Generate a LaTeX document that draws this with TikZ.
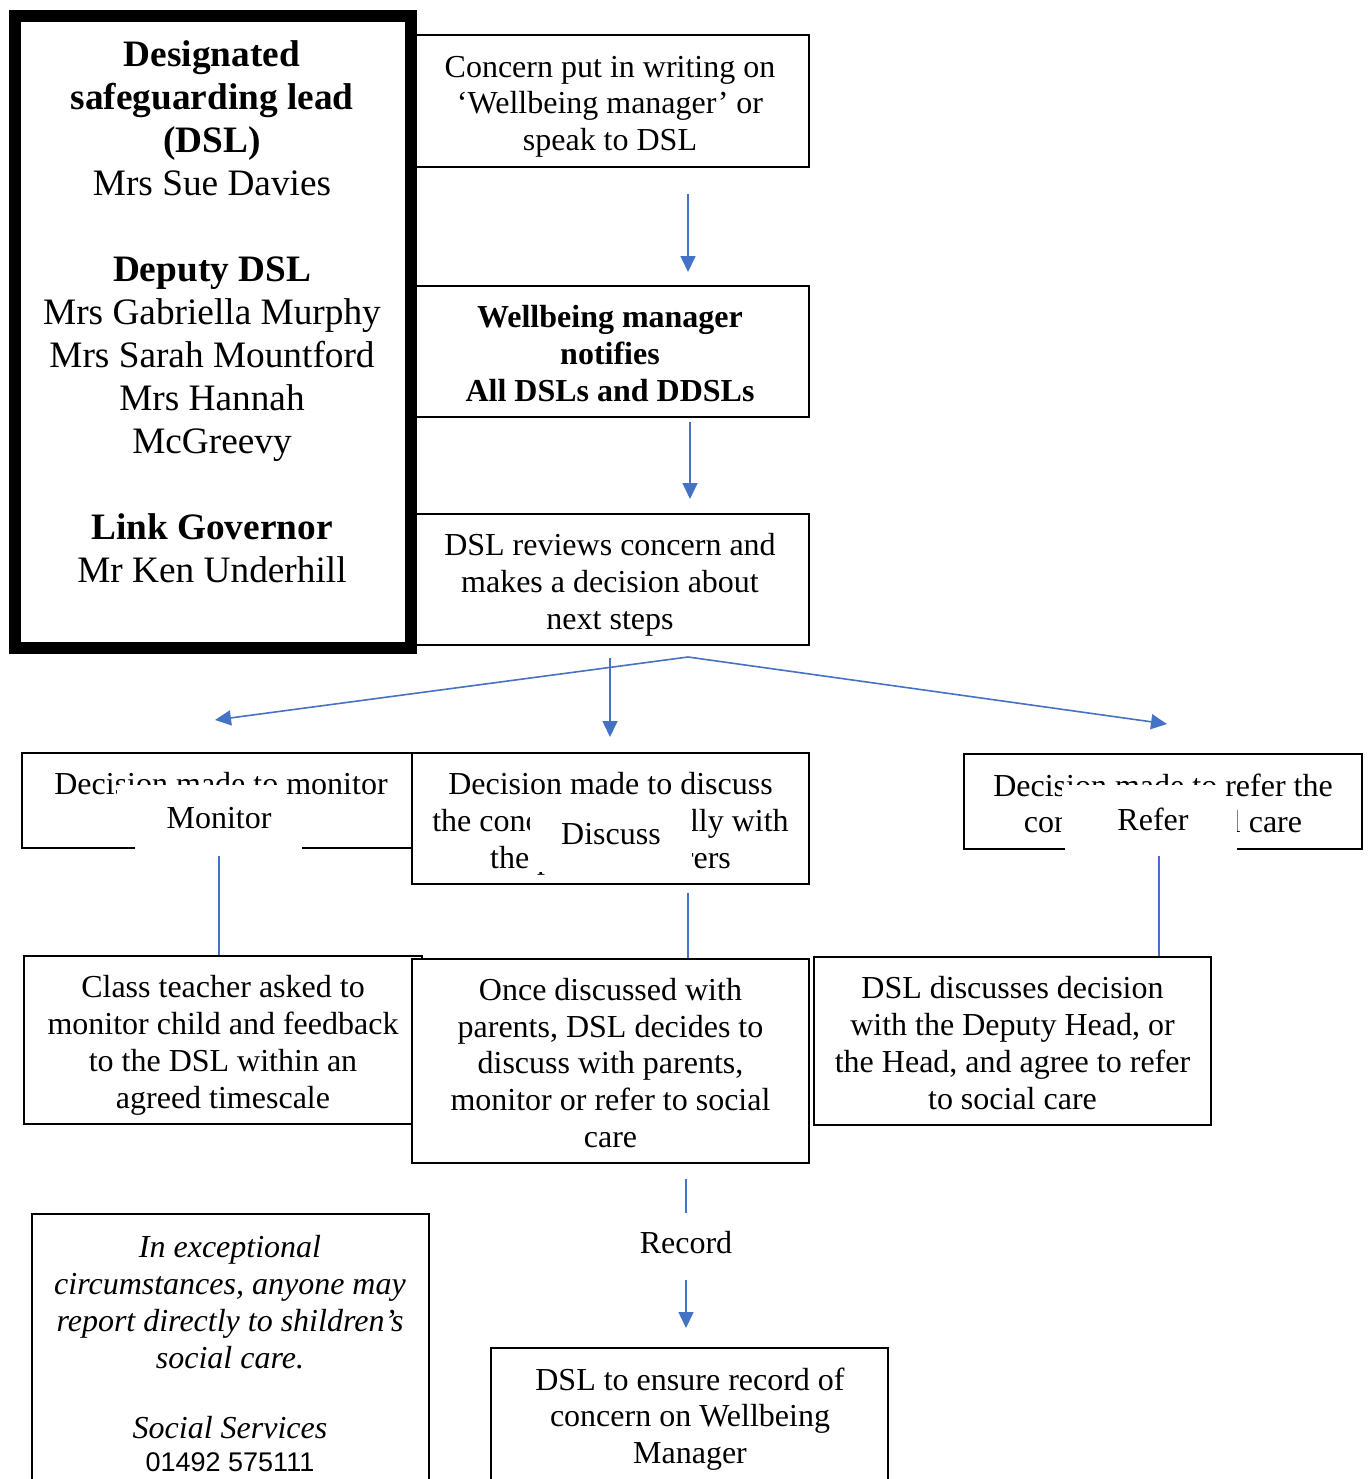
\documentclass[tikz,border=0pt]{standalone}
\usepackage{fontspec}
\setmainfont{Liberation Serif}
\newfontfamily\phonefont{Liberation Sans}
\usetikzlibrary{arrows.meta}
\definecolor{arrowblue}{RGB}{68,114,196}
\newcommand{\bodyfont}{\fontsize{32}{36.8}\selectfont}
\newcommand{\titlefont}{\fontsize{37.3}{43}\selectfont}
\newcommand{\phonesize}{\fontsize{27}{34}\selectfont}
\begin{document}
\begin{tikzpicture}[x=1pt,y=-1pt,
  flowbox/.style={draw, line width=1.8pt, fill=white, inner sep=0pt, align=center, font=\bodyfont},
  plaintext/.style={inner sep=0pt, align=center, font=\bodyfont},
  lone/.style={text height=20.8pt, text depth=0pt},
  ltwo/.style={text height=62.6pt, text depth=0pt},
  lthree/.style={text height=99.4pt, text depth=0pt},
  lfour/.style={text height=136.2pt, text depth=0pt},
  lfive/.style={text height=173pt, text depth=0pt},
  titletext/.style={inner sep=0pt, align=center, font=\titlefont, text height=540.2pt, text depth=0pt},
  leadbox/.style={draw, line width=12pt, inner sep=0pt},
  flowarrow/.style={draw=arrowblue, line width=1.6pt, -{Triangle[length=16pt,width=15pt]}},
  flowline/.style={draw=arrowblue, line width=1.6pt},
  patch/.style={fill=white, draw=none}
]
\useasboundingbox (0,0) rectangle (1370,1479);
\clip (0,0) rectangle (1370,1479);

% top column of boxes
\node[flowbox, lthree, minimum width=398pt, minimum height=132pt] (concern) at (610,101)
  {Concern put in writing on\\‘Wellbeing manager’ or\\speak to DSL};
\node[flowbox, lthree, minimum width=398pt, minimum height=131pt, font=\bodyfont\bfseries] (notify) at (610,351.5)
  {Wellbeing manager\\notifies\\All DSLs and DDSLs};
\node[flowbox, lthree, minimum width=398pt, minimum height=131pt] (review) at (610,579.5)
  {DSL reviews concern and\\makes a decision about\\next steps};

% DSL box
\node[leadbox, minimum width=396.5pt, minimum height=631.5pt] (lead) at (212.75,331.75) {};
\node[titletext] (leadtext) at (212,312)
  {\textbf{Designated}\\\textbf{safeguarding lead}\\\textbf{(DSL)}\\Mrs Sue Davies\\\strut\\
   \textbf{Deputy DSL}\\Mrs Gabriella Murphy\\Mrs Sarah Mountford\\Mrs Hannah\\McGreevy\\\strut\\
   \textbf{Link Governor}\\Mr Ken Underhill};

% arrows down the column
\coordinate (a1s) at (688,194);
\coordinate (a1e) at (688,272);
\coordinate (a2s) at (690,422);
\coordinate (a2e) at (690,499);
\draw[flowarrow] (a1s) -- (a1e);
\draw[flowarrow] (a2s) -- (a2e);

% fan of arrows
\coordinate (fan) at (688,657);
\coordinate (fanL) at (215,720);
\coordinate (fanR) at (1167,724);
\coordinate (midS) at (610,658);
\coordinate (midE) at (610,737);
\draw[flowarrow] (fan) -- (fanL);
\draw[flowarrow] (fan) -- (fanR);
\draw[flowarrow] (midS) -- (midE);

% decision boxes
\node[flowbox, minimum width=390pt, minimum height=95pt] (monbox) at (217,800.5) {};
\node[plaintext, lone] (montext) at (221,784) {Decision made to monitor};
\node[flowbox, lthree, minimum width=397pt, minimum height=131pt] (disbox) at (610.5,818.5)
  {Decision made to discuss\\the concern informally with\\the parents / carers};
\node[flowbox, ltwo, minimum width=398pt, minimum height=95pt] (refbox) at (1163,801.5)
  {Decision made to refer the\\concern to social care};

% white label patches
\fill[patch] (117,785) rectangle (284,840);
\fill[patch] (135,800) rectangle (302,860);
\fill[patch] (530,801) rectangle (692,872);
\fill[patch] (1062,785) rectangle (1219,840);
\fill[patch] (1065,803) rectangle (1237,860);

\node[plaintext, lone] (lblM) at (219,818) {Monitor};
\node[plaintext, lone] (lblD) at (611,834) {Discuss};
\node[plaintext, lone] (lblR) at (1153,820) {Refer};

% action boxes
\node[flowbox, lfour, minimum width=398pt, minimum height=168pt] (teach) at (223,1040)
  {Class teacher asked to\\monitor child and feedback\\to the DSL within an\\agreed timescale};
\node[flowbox, lfive, minimum width=397pt, minimum height=204pt] (once) at (610.5,1061)
  {Once discussed with\\parents, DSL decides to\\discuss with parents,\\monitor or refer to social\\care};
\node[flowbox, lfour, minimum width=397pt, minimum height=168pt] (dsltwo) at (1012.5,1041)
  {DSL discusses decision\\with the Deputy Head, or\\the Head, and agree to refer\\to social care};

% connectors from labels
\coordinate (mS) at (219,856);
\coordinate (dS) at (688,893);
\coordinate (rS) at (1159,856);
\draw[flowline] (mS) -- (mS |- teach.north);
\draw[flowline] (dS) -- (dS |- once.north);
\draw[flowline] (rS) -- (rS |- dsltwo.north);

% record step
\coordinate (recA) at (686,1179);
\coordinate (recB) at (686,1213);
\node[plaintext, lone] (lblRec) at (686,1243) {Record};
\coordinate (recC) at (686,1280);
\coordinate (recD) at (686,1328);
\draw[flowline] (recA) -- (recB);
\draw[flowarrow] (recC) -- (recD);

% bottom boxes
\node[flowbox, minimum width=397pt, minimum height=252pt] (recbox) at (689.5,1474) {};
\node[plaintext, lthree] (rectext) at (690,1414)
  {DSL to ensure record of\\concern on Wellbeing\\Manager};

\node[flowbox, minimum width=397pt, minimum height=386pt] (except) at (230.5,1407) {};
\node[plaintext, lfour, font=\bodyfont\itshape] (excepttext) at (230,1300)
  {In exceptional\\circumstances, anyone may\\report directly to shildren’s\\social care.};
\node[plaintext, lone, font=\bodyfont\itshape] (sstext) at (230,1428) {Social Services};
\node[inner sep=0pt, font=\phonefont\phonesize] (phone) at (230,1462) {01492 575111};
\end{tikzpicture}
\end{document}
